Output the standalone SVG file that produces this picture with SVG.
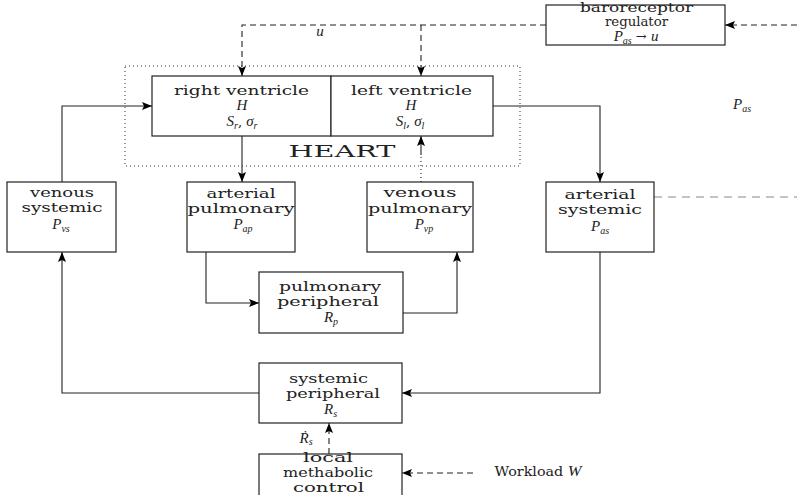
<svg xmlns="http://www.w3.org/2000/svg" width="797" height="495" viewBox="0 0 797 495">
<style>
.t{font-family:"DejaVu Serif","Liberation Serif",serif;font-size:13px;fill:#222;text-anchor:middle}
.m{font-family:"Liberation Serif","DejaVu Serif",serif;font-style:italic;font-size:15px}
.s{font-family:"Liberation Serif","DejaVu Serif",serif;font-size:10px;font-style:italic}
.box{fill:#fff;stroke:#222;stroke-width:1.2}
.c{fill:none;stroke:#222;stroke-width:1.1}
.d{stroke-dasharray:6 4}
.dot{stroke-dasharray:1 3}
</style>
<defs>
<marker id="ah" viewBox="0 0 10 8" refX="10" refY="4" markerWidth="10" markerHeight="8" orient="auto" markerUnits="userSpaceOnUse">
<path d="M0,0 L10,4 L0,8 L2,4 z" fill="#000"/>
</marker>
</defs>
<rect width="797" height="495" fill="#fff"/>

<g id="connectors">
<path class="c" d="M62,182 V106 H152" marker-end="url(#ah)"/>
<path class="c" d="M242,136 V182" marker-end="url(#ah)"/>
<path class="c dot" d="M421,182 V155"/>
<path class="c" d="M421,155 V136" marker-end="url(#ah)"/>
<path class="c" d="M493,106 H600 V182" marker-end="url(#ah)"/>
<path class="c" d="M206,252 V303 H259" marker-end="url(#ah)"/>
<path class="c" d="M403,313 H457 V252" marker-end="url(#ah)"/>
<path class="c" d="M600,252 V393 H402" marker-end="url(#ah)"/>
<path class="c" d="M259,393 H62 V252" marker-end="url(#ah)"/>
<path class="c d" d="M329,454 V423" marker-end="url(#ah)"/>
<path class="c d" d="M473,473 H402" marker-end="url(#ah)"/>
<path class="c d" d="M797,25 H725" marker-end="url(#ah)"/>
<path class="c d" d="M546,25 H242 V76" marker-end="url(#ah)"/>
<path class="c d" d="M421,25 V76" marker-end="url(#ah)"/>
<path fill="none" stroke="#888" stroke-width="1.1" stroke-dasharray="8 6" d="M654,197 H797"/>
<text class="t" x="320" y="36"><tspan class="m">u</tspan></text>
<text class="t" x="742" y="109"><tspan class="m">P</tspan><tspan class="s" dy="3">as</tspan></text>
<text class="t" x="306" y="443"><tspan class="m">Ṙ</tspan><tspan class="s" dy="2">s</tspan></text>
<text class="t" x="538" y="476" textLength="87" lengthAdjust="spacingAndGlyphs">Workload <tspan class="m">W</tspan></text>
</g>

<g id="heart">
<rect x="125" y="66" width="395" height="100" fill="none" stroke="#333" stroke-width="1" stroke-dasharray="1 3"/>
<text class="t" x="342" y="157" style="font-size:16px" textLength="107" lengthAdjust="spacingAndGlyphs">HEART</text>
</g>

<g id="right-ventricle">
<rect class="box" x="152" y="76" width="179" height="60"/>
<text class="t" x="241.5" y="95" textLength="135" lengthAdjust="spacingAndGlyphs">right ventricle</text>
<text class="t" x="242" y="110"><tspan class="m">H</tspan></text>
<text class="t" x="242" y="126"><tspan class="m">S</tspan><tspan class="s" dy="3">r</tspan><tspan dy="-3">, </tspan><tspan class="m">σ</tspan><tspan class="s" dy="3">r</tspan></text>
</g>

<g id="left-ventricle">
<rect class="box" x="331" y="76" width="162" height="60"/>
<text class="t" x="411.5" y="95" textLength="121" lengthAdjust="spacingAndGlyphs">left ventricle</text>
<text class="t" x="411" y="110"><tspan class="m">H</tspan></text>
<text class="t" x="410" y="126"><tspan class="m">S</tspan><tspan class="s" dy="3">l</tspan><tspan dy="-3">, </tspan><tspan class="m">σ</tspan><tspan class="s" dy="3">l</tspan></text>
</g>

<g id="baroreceptor">
<rect class="box" x="546" y="5" width="179" height="40"/>
<text class="t" x="636.5" y="12" textLength="113" lengthAdjust="spacingAndGlyphs">baroreceptor</text>
<text class="t" x="636.5" y="26" textLength="63" lengthAdjust="spacingAndGlyphs">regulator</text>
<text class="t" x="636" y="41"><tspan class="m">P</tspan><tspan class="s" dy="3">as</tspan><tspan dy="-3"> → </tspan><tspan class="m">u</tspan></text>
</g>

<g id="venous-systemic">
<rect class="box" x="7" y="182" width="109" height="70"/>
<text class="t" x="62" y="197" textLength="64" lengthAdjust="spacingAndGlyphs">venous</text>
<text class="t" x="62" y="212" textLength="81" lengthAdjust="spacingAndGlyphs">systemic</text>
<text class="t" x="61" y="229"><tspan class="m">P</tspan><tspan class="s" dy="3">vs</tspan></text>
</g>

<g id="arterial-pulmonary">
<rect class="box" x="187" y="182" width="108" height="70"/>
<text class="t" x="241" y="198" textLength="69" lengthAdjust="spacingAndGlyphs">arterial</text>
<text class="t" x="241" y="213" textLength="107" lengthAdjust="spacingAndGlyphs">pulmonary</text>
<text class="t" x="243" y="229"><tspan class="m">P</tspan><tspan class="s" dy="3">ap</tspan></text>
</g>

<g id="venous-pulmonary">
<rect class="box" x="367" y="182" width="106" height="70"/>
<text class="t" x="420" y="197" textLength="73" lengthAdjust="spacingAndGlyphs">venous</text>
<text class="t" x="420" y="213" textLength="104" lengthAdjust="spacingAndGlyphs">pulmonary</text>
<text class="t" x="424" y="229"><tspan class="m">P</tspan><tspan class="s" dy="3">vp</tspan></text>
</g>

<g id="arterial-systemic">
<rect class="box" x="546" y="182" width="108" height="70"/>
<text class="t" x="600" y="199" textLength="71" lengthAdjust="spacingAndGlyphs">arterial</text>
<text class="t" x="600" y="214" textLength="84" lengthAdjust="spacingAndGlyphs">systemic</text>
<text class="t" x="600" y="231"><tspan class="m">P</tspan><tspan class="s" dy="3">as</tspan></text>
</g>

<g id="pulmonary-peripheral">
<rect class="box" x="259" y="272" width="144" height="61"/>
<text class="t" x="330" y="291" textLength="102" lengthAdjust="spacingAndGlyphs">pulmonary</text>
<text class="t" x="328" y="306" textLength="102" lengthAdjust="spacingAndGlyphs">peripheral</text>
<text class="t" x="331" y="322"><tspan class="m">R</tspan><tspan class="s" dy="3">p</tspan></text>
</g>

<g id="systemic-peripheral">
<rect class="box" x="259" y="363" width="143" height="60"/>
<text class="t" x="328.5" y="383" textLength="79" lengthAdjust="spacingAndGlyphs">systemic</text>
<text class="t" x="333" y="398" textLength="94" lengthAdjust="spacingAndGlyphs">peripheral</text>
<text class="t" x="330.5" y="414"><tspan class="m">R</tspan><tspan class="s" dy="3">s</tspan></text>
</g>

<g id="local-methabolic-control">
<rect class="box" x="259" y="454" width="143" height="50"/>
<text class="t" x="328" y="462" textLength="50" lengthAdjust="spacingAndGlyphs">local</text>
<text class="t" x="328" y="477" textLength="90" lengthAdjust="spacingAndGlyphs">methabolic</text>
<text class="t" x="328.5" y="492" textLength="71" lengthAdjust="spacingAndGlyphs">control</text>
</g>
</svg>
